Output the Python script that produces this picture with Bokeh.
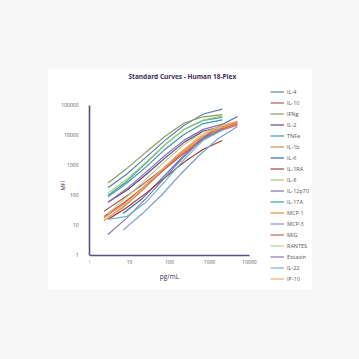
from bokeh.plotting import figure
from bokeh.embed import file_html
from bokeh.resources import INLINE
from bokeh.models import Legend, LegendItem, FixedTicker, Title

# ---- data ----
x7a = [2.9, 8.6, 26, 78, 233, 700, 2100]
x7b = [6.9, 21, 62, 185, 556, 1667, 5000]
x8 = [2.3, 6.9, 21, 62, 185, 556, 1667, 5000]

names = ["IL-4", "IL-10", "IFNg", "IL-2", "TNFa", "IL-1b", "IL-6", "IL-1RA", "IL-8",
         "IL-12p70", "IL-17A", "MCP-1", "MCP-3", "MIG", "RANTES", "Eotaxin", "IL-22", "IP-10"]

IL4 = [180, 520, 1900, 7000, 22000, 52000, 76000]
IL10 = [30, 80, 230, 700, 2200, 6500, 15000, 25000]
IFNg = [260, 800, 2800, 9500, 26000, 42000, 50000]
IL2 = [60, 150, 500, 1800, 6000, 14000, 20000]
TNFa = [100, 300, 1200, 5000, 16000, 32000, 40000]
IL1b = [15, 40, 150, 600, 2200, 7000, 16000, 26000]
IL6 = [25, 80, 350, 1600, 6500, 20000, 43000]
IL1RA = [16, 40, 120, 400, 1300, 3500, 6800]
IL8 = [120, 350, 1300, 5000, 16000, 33000, 45000]
IL12p70 = [60, 170, 600, 2200, 7000, 16000, 24000]
IL17A = [90, 260, 900, 3500, 11000, 25000, 33000]
MCP1 = [18, 50, 180, 700, 2500, 8000, 18000, 28000]
MCP3 = [7, 25, 100, 500, 2200, 8000, 20000]
MIG = [20, 55, 170, 600, 2000, 6000, 14000, 22000]
RANTES = [25, 90, 350, 1400, 5000, 13000, 20000]
Eotaxin = [5, 18, 80, 400, 2000, 8000, 16000]
IL22 = [16, 20, 60, 300, 1600, 7000, 15000]
IP10 = [14, 45, 170, 700, 2700, 9000, 20000, 30000]

xs = [x7a, x8, x7a, x7a, x7a, x8, x7b, x7a, x7a, x7a, x7a, x8, x7b, x8, x7a, x7a, x7a, x8]
ys = [IL4, IL10, IFNg, IL2, TNFa, IL1b, IL6, IL1RA, IL8, IL12p70, IL17A, MCP1, MCP3, MIG,
      RANTES, Eotaxin, IL22, IP10]

colors = ["#5b7fa8", "#b05a5a", "#87a05a", "#5c4a8a", "#3aa0a8", "#d98a40", "#3f6db5",
          "#a03c3c", "#a8c880", "#8a70b0", "#3a9ca0", "#e8883a", "#7a9cc8", "#d06060",
          "#b8d08a", "#8a78b0", "#6ab8d0", "#f0a870"]

ticks_y = [1, 10, 100, 1000, 10000, 100000]
ticks_x = [1, 10, 100, 1000, 10000]

TXT = "#3d2c5e"
AX = "#5e4b8b"
FONT = "Open Sans"

# frame spans the legend too; axes are bounded to the data extent
p = figure(width=265, height=222, x_axis_type="log", y_axis_type="log",
           x_range=(1, 375837), y_range=(0.0681, 681292),
           output_backend="svg", toolbar_location=None,
           min_border_left=42, min_border_right=0, min_border_top=12, min_border_bottom=0)
p.outline_line_color = None
p.background_fill_color = "white"
p.border_fill_color = "white"

p.title = Title(text="Standard Curves - Human 18-Plex", align="left",
                text_font=FONT, text_font_size="6.5px", text_font_style="bold",
                text_color=TXT, standoff=0, offset=39)

renderers = []
for xv, yv, c in zip(xs, ys, colors):
    r = p.line(xv, yv, line_color=c, line_width=1.2)
    renderers.append(r)

for ax, tk in ((p.xaxis[0], ticks_x), (p.yaxis[0], ticks_y)):
    ax.ticker = FixedTicker(ticks=tk)
    ax.bounds = (tk[0], tk[-1])
    ax.major_label_overrides = {t: str(t) for t in tk}
    ax.major_tick_line_color = None
    ax.major_tick_out = 0
    ax.major_tick_in = 0
    ax.minor_tick_line_color = None
    ax.minor_tick_out = 0
    ax.axis_line_color = AX
    ax.axis_line_width = 1.6
    ax.major_label_text_font = FONT
    ax.major_label_text_font_size = "5px"
    ax.major_label_text_color = "#555555"

p.xaxis.fixed_location = 1
p.yaxis.major_label_standoff = 11
p.xaxis.major_label_standoff = 5
p.xaxis.axis_label = "pg/mL"
p.xaxis.axis_label_standoff = 4
p.yaxis.axis_label = "MFI"
p.yaxis.axis_label_standoff = -9
for ax in (p.xaxis[0], p.yaxis[0]):
    ax.axis_label_text_font = FONT
    ax.axis_label_text_font_style = "normal"
    ax.axis_label_text_color = TXT
p.xaxis.axis_label_text_font_size = "6.5px"
p.yaxis.axis_label_text_font_size = "5.5px"

p.xgrid.grid_line_color = None
p.ygrid.grid_line_color = None

items = [LegendItem(label=n, renderers=[r]) for n, r in zip(names, renderers)]
legend = Legend(items=items, location=(181, 6), glyph_width=14, glyph_height=11,
                label_height=11, spacing=0, padding=0, margin=0, label_standoff=3,
                label_text_font=FONT, label_text_font_size="5.5px",
                label_text_color="#555555", border_line_alpha=0,
                background_fill_alpha=0)
p.add_layout(legend, "center")

html = file_html(p, INLINE)
html = html.replace(
    "<head>",
    "<head><style>html,body{background:#f7f7f7 !important;} "
    "body{margin:0 !important; padding:68px 0 0 47px !important;}</style>", 1)
open("out.html", "w").write(html)
